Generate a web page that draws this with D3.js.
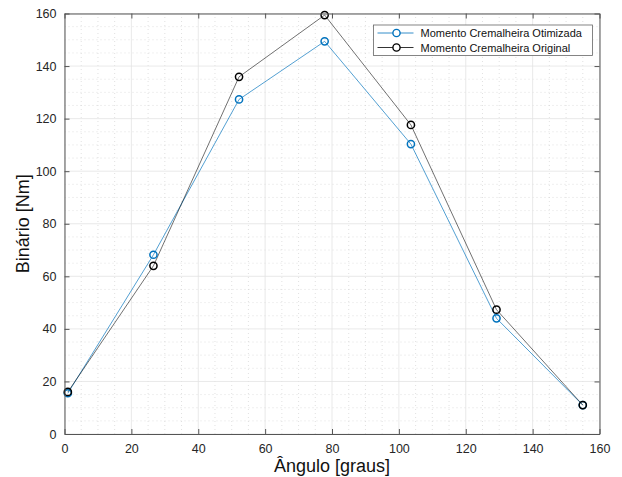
<!DOCTYPE html>
<html>
<head>
<meta charset="utf-8">
<script src="https://cdn.jsdelivr.net/npm/d3@7"></script>
<style>
  html, body { margin: 0; padding: 0; background: #fff; }
  svg { display: block; font-family: "Liberation Sans", Arial, Helvetica, sans-serif; }
</style>
</head>
<body>
<svg id="chart" width="622" height="477"></svg>
<script>
// Steering rack moment versus angle
const angles = [1, 26.6, 52.2, 77.8, 103.6, 129.2, 155];
const momentOptimized = [15.5, 68.2, 127.3, 149.4, 110.3, 44.0, 11.0];
const momentOriginal = [16.0, 64.0, 135.9, 159.4, 117.6, 47.3, 11.0];
const seriesNames = ["Momento Cremalheira Otimizada", "Momento Cremalheira Original"];
const seriesColors = ["#0072BD", "#000000"];
const xTicks = [0, 20, 40, 60, 80, 100, 120, 140, 160];
const yTicks = [0, 20, 40, 60, 80, 100, 120, 140, 160];
const xLabel = "Ângulo [graus]";
const yLabel = "Binário [Nm]";

const svg = d3.select("#chart");
const margin = { left: 64.5, top: 13.5, right: 622 - 599.5, bottom: 477 - 434 };
const W = 622, H = 477;

const x = d3.scaleLinear().domain([0, 160]).range([margin.left, W - margin.right]);
const y = d3.scaleLinear().domain([0, 160]).range([H - margin.bottom, margin.top]);

const plot = svg.append("g");

// minor grid (dotted)
const minorX = d3.range(0, 161, 5).filter(v => v % 20 !== 0);
const minorY = d3.range(0, 161, 5).filter(v => v % 20 !== 0);
plot.append("g").selectAll("line").data(minorX).join("line")
  .attr("x1", d => x(d)).attr("x2", d => x(d))
  .attr("y1", y(0)).attr("y2", y(160))
  .attr("stroke", "#cdcdcd").attr("stroke-width", 0.6).attr("stroke-dasharray", "1,3");
plot.append("g").selectAll("line").data(minorY).join("line")
  .attr("y1", d => y(d)).attr("y2", d => y(d))
  .attr("x1", x(0)).attr("x2", x(160))
  .attr("stroke", "#cdcdcd").attr("stroke-width", 0.6).attr("stroke-dasharray", "1,3");

// major grid
plot.append("g").selectAll("line").data(xTicks).join("line")
  .attr("x1", d => x(d)).attr("x2", d => x(d))
  .attr("y1", y(0)).attr("y2", y(160))
  .attr("stroke", "#e3e3e3").attr("stroke-width", 0.8);
plot.append("g").selectAll("line").data(yTicks).join("line")
  .attr("y1", d => y(d)).attr("y2", d => y(d))
  .attr("x1", x(0)).attr("x2", x(160))
  .attr("stroke", "#e3e3e3").attr("stroke-width", 0.8);

// axes (ticks pointing inward)
const axisColor = "#555";
const xAxis = d3.axisBottom(x).tickValues(xTicks).tickSizeInner(-5).tickSizeOuter(0).tickPadding(10);
const yAxis = d3.axisLeft(y).tickValues(yTicks).tickSizeInner(-5).tickSizeOuter(0).tickPadding(8);
const xTop = d3.axisTop(x).tickValues(xTicks).tickSizeInner(-5).tickSizeOuter(0).tickFormat("");
const yRight = d3.axisRight(y).tickValues(yTicks).tickSizeInner(-5).tickSizeOuter(0).tickFormat("");

function styleAxis(g) {
  g.selectAll("path").attr("stroke", axisColor).attr("stroke-width", 1);
  g.selectAll("line").attr("stroke", axisColor).attr("stroke-width", 1);
  g.selectAll("text").attr("fill", "#262626").attr("font-size", 12.5)
    .attr("font-family", "Liberation Sans, Arial, sans-serif");
}
svg.append("g").attr("transform", `translate(0,${y(0)})`).call(xAxis).call(styleAxis);
svg.append("g").attr("transform", `translate(${x(0)},0)`).call(yAxis).call(styleAxis);
svg.append("g").attr("transform", `translate(0,${y(160)})`).call(xTop).call(styleAxis);
svg.append("g").attr("transform", `translate(${x(160)},0)`).call(yRight).call(styleAxis);

// axis titles
svg.append("text").attr("x", (x(0) + x(160)) / 2).attr("y", 472)
  .attr("text-anchor", "middle").attr("font-size", 18).attr("fill", "#111").text(xLabel);
svg.append("text").attr("transform", `translate(29,${(y(0) + y(160)) / 2}) rotate(-90)`)
  .attr("text-anchor", "middle").attr("font-size", 18).attr("fill", "#111").text(yLabel);

// series
const series = [momentOptimized, momentOriginal];
const line = d3.line().x((d, i) => x(angles[i])).y(d => y(d));
series.forEach((vals, s) => {
  plot.append("path").datum(vals).attr("d", line)
    .attr("fill", "none").attr("stroke", seriesColors[s])
    .attr("stroke-width", s === 0 ? 0.8 : 0.7).attr("stroke-opacity", s === 0 ? 0.85 : 0.8);
});
series.forEach((vals, s) => {
  plot.append("g").selectAll("circle").data(vals).join("circle")
    .attr("cx", (d, i) => x(angles[i])).attr("cy", d => y(d)).attr("r", 3.6)
    .attr("fill", "none").attr("stroke", seriesColors[s]).attr("stroke-width", 1.5);
});

// legend
const lg = svg.append("g").attr("transform", "translate(373.5,25)");
lg.append("rect").attr("width", 219).attr("height", 30.5)
  .attr("fill", "#fff").attr("stroke", "#666").attr("stroke-width", 0.8);
seriesNames.forEach((name, i) => {
  const cy = 8 + i * 14.5;
  lg.append("line").attr("x1", 4).attr("x2", 40).attr("y1", cy).attr("y2", cy)
    .attr("stroke", seriesColors[i]).attr("stroke-width", 0.8);
  lg.append("circle").attr("cx", 23).attr("cy", cy).attr("r", 3.6)
    .attr("fill", "#fff").attr("stroke", seriesColors[i]).attr("stroke-width", 1.4);
  lg.append("text").attr("x", 47).attr("y", cy + 4).attr("font-size", 11)
    .attr("fill", "#111").text(name);
});
</script>
</body>
</html>
